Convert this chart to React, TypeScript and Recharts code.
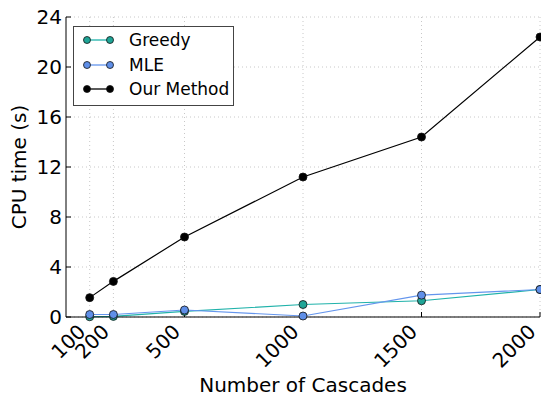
import { LineChart, Line, XAxis, YAxis, CartesianGrid } from 'recharts';

const cascades = [100, 200, 500, 1000, 1500, 2000];
const greedy = [0.02, 0.05, 0.45, 1.0, 1.3, 2.2];
const mle = [0.2, 0.2, 0.56, 0.08, 1.75, 2.2];
const ourMethod = [1.55, 2.85, 6.4, 11.2, 14.4, 22.4];

const xTicks = [100, 200, 500, 1000, 1500, 2000];
const yTicks = [0, 4, 8, 12, 16, 20, 24];

const SERIES = [
  { key: 'Greedy', values: greedy, line: '#20b2aa', fill: '#1fa597' },
  { key: 'MLE', values: mle, line: '#6495ed', fill: '#5f8fe8' },
  { key: 'Our Method', values: ourMethod, line: '#000000', fill: '#000000' },
];

const FONT = '"DejaVu Sans", sans-serif';

const chartData = cascades.map((c, i) => {
  const row: any = { x: c };
  SERIES.forEach((s) => {
    row[s.key] = s.values[i];
  });
  return row;
});

const XTick = (props: any) => {
  const { x, y, payload } = props;
  const bx = x - 3;
  const by = y + 21;
  return (
    <text
      x={bx}
      y={by}
      textAnchor="end"
      fontSize={20}
      fontFamily={FONT}
      fill="#000"
      transform={`rotate(-45, ${bx}, ${by})`}
    >
      {payload.value}
    </text>
  );
};

const YTick = (props: any) => {
  const { x, y, payload } = props;
  return (
    <text x={x} y={y} dy="0.36em" textAnchor="end" fontSize={20} fontFamily={FONT} fill="#000">
      {payload.value}
    </text>
  );
};

const Empty = () => <g />;

// legend drawn as an overlay box in the top-left of the plot
const LegendBox = () => (
  <div
    style={{
      position: 'absolute',
      left: 73,
      top: 26,
      border: '1px solid #444',
      background: '#fff',
      width: 161,
      height: 80,
      boxSizing: 'border-box',
      fontFamily: FONT,
      fontSize: 17,
    }}
  >
    {SERIES.map((s, i) => (
      <div key={s.key} style={{ position: 'absolute', left: 0, top: 2 + i * 24.5, height: 22, display: 'flex', alignItems: 'center' }}>
        <svg width={50} height={22} style={{ display: 'block' }}>
          <line x1={13} y1={11} x2={36} y2={11} stroke={s.line} strokeWidth={1.3} />
          <circle cx={13} cy={11} r={3.5} fill={s.fill} stroke="#111" strokeWidth={0.8} />
          <circle cx={36} cy={11} r={3.5} fill={s.fill} stroke="#111" strokeWidth={0.8} />
        </svg>
        <span style={{ marginLeft: 5, color: '#000', whiteSpace: 'nowrap' }}>{s.key}</span>
      </div>
    ))}
  </div>
);

export default function App() {
  return (
    <div style={{ position: 'absolute', left: 0, top: 0, width: 541, height: 400, background: '#fff' }}>
      <LineChart width={541} height={400} data={chartData} margin={{ top: 17, right: 1, left: 0, bottom: 0 }}>
        <CartesianGrid
          stroke="#c8c8c8"
          strokeDasharray="1 3"
          verticalValues={xTicks}
          horizontalValues={yTicks}
          xAxisId="bottom"
          yAxisId="left"
        />
        <XAxis
          xAxisId="bottom"
          dataKey="x"
          type="number"
          domain={[0, 2000]}
          ticks={xTicks}
          height={83}
          stroke="#000"
          tickSize={-5}
          tickMargin={0}
          tick={<XTick />}
          interval={0}
          label={{
            content: () => (
              <text x={303} y={392} textAnchor="middle" fontSize={20} fontFamily={FONT} fill="#000">
                Number of Cascades
              </text>
            ),
          }}
        />
        <XAxis
          xAxisId="top"
          orientation="top"
          dataKey="x"
          type="number"
          domain={[0, 2000]}
          ticks={xTicks}
          height={0}
          stroke="#000"
          tickSize={-5}
          tick={<Empty />}
          interval={0}
        />
        <YAxis
          yAxisId="left"
          type="number"
          domain={[0, 24]}
          ticks={yTicks}
          width={66}
          stroke="#000"
          tickSize={-5}
          tickMargin={9}
          tick={<YTick />}
          interval={0}
          label={{
            content: () => (
              <text
                x={26}
                y={167}
                textAnchor="middle"
                fontSize={20}
                fontFamily={FONT}
                fill="#000"
                transform="rotate(-90, 26, 167)"
              >
                CPU time (s)
              </text>
            ),
          }}
        />
        <YAxis
          yAxisId="right"
          orientation="right"
          type="number"
          domain={[0, 24]}
          ticks={yTicks}
          width={0}
          stroke="#000"
          tickSize={-5}
          tick={<Empty />}
          interval={0}
        />
        {SERIES.map((s) => (
          <Line
            key={s.key}
            xAxisId="bottom"
            yAxisId="left"
            type="linear"
            dataKey={s.key}
            stroke={s.line}
            strokeWidth={1.2}
            dot={{ r: 4, fill: s.fill, stroke: '#111', strokeWidth: 0.8 }}
            activeDot={false}
            isAnimationActive={false}
          />
        ))}
      </LineChart>
      <LegendBox />
    </div>
  );
}
